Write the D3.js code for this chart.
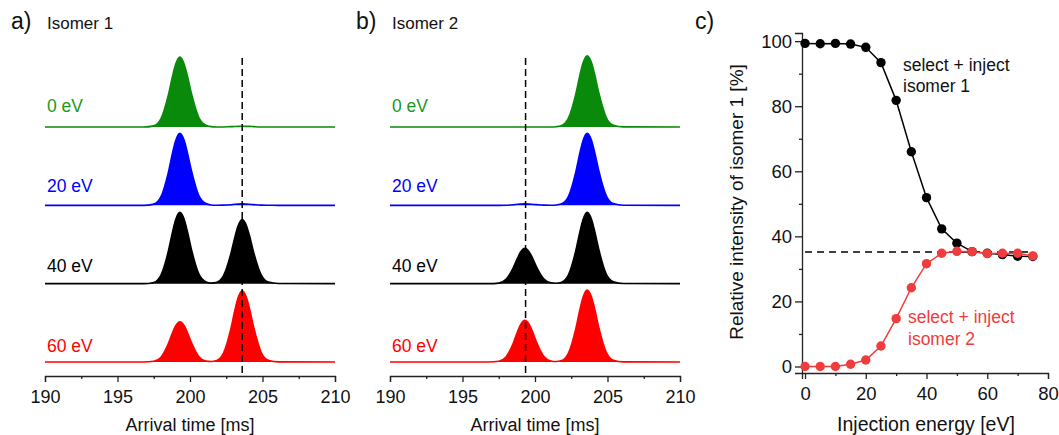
<!DOCTYPE html>
<html>
<head>
<meta charset="utf-8">
<script src="https://cdn.jsdelivr.net/npm/d3@7"></script>
<style>
  body { margin: 0; background: #fff; }
  svg text { font-family: "Liberation Sans", Arial, sans-serif; }
</style>
</head>
<body>
<div id="my_dataviz"></div>
<script>
// arrival time grid [ms] the traces were read at
var times = [190, 196.8, 197.5, 198.0, 198.5, 198.8, 199.0, 199.3, 199.6, 199.8, 200.1, 200.6, 201.1, 201.45,
             201.8, 202.3, 202.8, 203.1, 203.3, 203.6, 203.9, 204.1, 204.4, 204.9, 205.4, 206.1, 210];

var energies = ["0 eV", "20 eV", "40 eV", "60 eV"];
var traceColors = ["#0a8a0a", "#0000ff", "#000000", "#ff0000"];

// normalised intensity, isomer 1 (panel a)
var iso1 = [
  [0,0,0.016,0.116,0.437,0.708,0.863,0.97,0.873,0.728,0.466,0.136,0.024,0.005,0,0.001,0.005,0.007,0.009,0.01,0.009,0.008,0.005,0.001,0,0,0],
  [0,0,0.017,0.12,0.45,0.73,0.89,1.0,0.9,0.75,0.48,0.14,0.025,0.005,0.001,0.003,0.009,0.015,0.018,0.02,0.018,0.015,0.01,0.003,0.001,0,0],
  [0,0,0.017,0.119,0.446,0.723,0.881,0.99,0.891,0.743,0.475,0.139,0.025,0.008,0.015,0.107,0.401,0.65,0.792,0.89,0.801,0.668,0.427,0.125,0.022,0.002,0],
  [0,0,0.01,0.067,0.252,0.409,0.498,0.56,0.504,0.42,0.269,0.078,0.014,0.007,0.017,0.119,0.446,0.723,0.881,0.99,0.891,0.743,0.475,0.139,0.025,0.002,0]
];
// normalised intensity, isomer 2 (panel b)
var iso2 = [
  [0,0,0,0,0,0,0,0,0,0,0,0,0,0.004,0.017,0.119,0.446,0.723,0.881,0.99,0.891,0.743,0.475,0.139,0.025,0.002,0],
  [0,0,0,0.002,0.009,0.015,0.018,0.02,0.018,0.015,0.01,0.003,0.001,0.004,0.017,0.12,0.45,0.73,0.89,1.0,0.9,0.75,0.48,0.14,0.025,0.002,0],
  [0,0,0.008,0.059,0.221,0.358,0.436,0.49,0.441,0.368,0.235,0.069,0.012,0.006,0.017,0.119,0.446,0.723,0.881,0.99,0.891,0.743,0.475,0.139,0.025,0.002,0],
  [0,0,0.01,0.07,0.261,0.423,0.516,0.58,0.522,0.435,0.278,0.081,0.015,0.007,0.017,0.12,0.45,0.73,0.89,1.0,0.9,0.75,0.48,0.14,0.025,0.002,0]
];
var timeTicks = [190, 195, 200, 205, 210];
var peak1Time = 199.35, peak2Time = 203.6;

// panel c
var injEnergy = [0, 5, 10, 15, 20, 25, 30, 35, 40, 45, 50, 55, 60, 65, 70, 75];
var rel1 = [99.3, 99.2, 99.3, 99.1, 98.1, 93.4, 81.8, 66.0, 51.9, 42.3, 37.9, 35.3, 34.8, 34.4, 33.9, 33.8];
var rel2 = [0, 0, 0, 0.7, 2.0, 6.3, 14.7, 24.2, 31.6, 34.8, 35.4, 35.3, 34.7, 34.8, 34.8, 34.0];
var plateau = 35.2;

var svg = d3.select("#my_dataviz")
  .append("svg")
    .attr("width", 1059)
    .attr("height", 435);

// ---------- panels a and b ----------
function drawTraces(opts) {
  var g = svg.append("g");
  var x = d3.scaleLinear().domain([190, 210]).range([opts.x0, opts.x1]);
  var base = d3.scalePoint().domain(energies).range([127, 362]);
  var labelY = d3.scalePoint().domain(energies).range([112, 352]);
  var h = d3.scaleLinear().domain([0, 1]).range([0, 72]);

  opts.traces.forEach(function(tr, i) {
    var pts = times.map(function(t, j) { return {t: t, v: tr[j]}; });
    var b = base(energies[i]);
    g.append("path")
      .datum(pts)
      .attr("fill", traceColors[i])
      .attr("d", d3.area()
        .curve(d3.curveMonotoneX)
        .x(function(d) { return x(d.t); })
        .y0(b)
        .y1(function(d) { return b - h(d.v); }));
    g.append("path")
      .datum(pts)
      .attr("fill", "none")
      .attr("stroke", traceColors[i])
      .attr("stroke-width", 1.6)
      .attr("d", d3.line()
        .curve(d3.curveMonotoneX)
        .x(function(d) { return x(d.t); })
        .y(function(d) { return b - h(d.v); }));
    g.append("text")
      .attr("x", opts.x0 + 2)
      .attr("y", labelY(energies[i]))
      .attr("fill", traceColors[i] == "#0a8a0a" ? "#1a9a1a" : traceColors[i])
      .style("font-size", "17.5px")
      .text(energies[i]);
  });

  // dashed marker line
  g.append("line")
    .attr("x1", x(opts.dashT)).attr("x2", x(opts.dashT))
    .attr("y1", 58).attr("y2", 376)
    .attr("stroke", "black")
    .attr("stroke-width", 1.5)
    .attr("stroke-dasharray", "7,4");

  // axis
  var ax = g.append("g")
    .attr("transform", "translate(0,376)")
    .call(d3.axisBottom(x).tickValues(timeTicks).tickSize(6).tickPadding(8).tickFormat(d3.format("d")));
  ax.selectAll("text").style("font-size", "18px").attr("fill", "#111");
  g.append("g")
    .attr("transform", "translate(0,376)")
    .call(d3.axisBottom(x).tickValues([192.5, 197.5, 202.5, 207.5]).tickSize(3).tickFormat(""))
    .select(".domain").remove();
  g.selectAll(".domain, .tick line").attr("stroke", "#222").attr("stroke-width", 1.3);

  g.append("text")
    .attr("x", (opts.x0 + opts.x1) / 2)
    .attr("y", 431)
    .attr("text-anchor", "middle")
    .style("font-size", "18px")
    .attr("fill", "#111")
    .text("Arrival time [ms]");

  g.append("text")
    .attr("x", opts.x0 - 34)
    .attr("y", 29)
    .style("font-size", "23px")
    .attr("fill", "#111")
    .text(opts.letter);
  g.append("text")
    .attr("x", opts.x0 + 2)
    .attr("y", 29)
    .style("font-size", "17px")
    .attr("fill", "#111")
    .text(opts.title);
}

drawTraces({x0: 45, x1: 335, traces: iso1, dashT: peak2Time, letter: "a)", title: "Isomer 1"});
drawTraces({x0: 390, x1: 680, traces: iso2, dashT: peak1Time, letter: "b)", title: "Isomer 2"});

// ---------- panel c ----------
var gc = svg.append("g");
var xc = d3.scaleLinear().domain([-1, 80]).range([802, 1048]);
var yc = d3.scaleLinear().domain([-2, 102.5]).range([373, 33]);

var xa = gc.append("g")
  .attr("transform", "translate(0,373)")
  .call(d3.axisBottom(xc).tickValues([0, 20, 40, 60, 80]).tickSize(6).tickPadding(8));
xa.selectAll("text").style("font-size", "18.5px").attr("fill", "#111");
gc.append("g")
  .attr("transform", "translate(0,373)")
  .call(d3.axisBottom(xc).tickValues([10, 30, 50, 70]).tickSize(3).tickFormat(""))
  .select(".domain").remove();

var ya = gc.append("g")
  .attr("transform", "translate(802,0)")
  .call(d3.axisLeft(yc).tickValues([0, 20, 40, 60, 80, 100]).tickSize(7).tickPadding(3));
ya.selectAll("text").style("font-size", "18.5px").attr("fill", "#111");
gc.append("g")
  .attr("transform", "translate(802,0)")
  .call(d3.axisLeft(yc).tickValues([10, 30, 50, 70, 90]).tickSize(3).tickFormat(""))
  .select(".domain").remove();
gc.selectAll(".domain, .tick line").attr("stroke", "#222").attr("stroke-width", 1.3);

gc.append("line")
  .attr("x1", xc(0)).attr("x2", xc(75))
  .attr("y1", yc(plateau)).attr("y2", yc(plateau))
  .attr("stroke", "black")
  .attr("stroke-width", 1.5)
  .attr("stroke-dasharray", "7,5");

function series(vals, color) {
  var pts = injEnergy.map(function(e, i) { return {e: e, v: vals[i]}; });
  gc.append("path")
    .datum(pts)
    .attr("fill", "none")
    .attr("stroke", color)
    .attr("stroke-width", 1.5)
    .attr("d", d3.line()
      .x(function(d) { return xc(d.e); })
      .y(function(d) { return yc(d.v); }));
  gc.selectAll(null)
    .data(pts)
    .enter()
    .append("circle")
      .attr("cx", function(d) { return xc(d.e); })
      .attr("cy", function(d) { return yc(d.v); })
      .attr("r", 4.7)
      .attr("fill", color);
}
series(rel1, "#000000");
series(rel2, "#f03c3c");

gc.append("text")
  .attr("x", 903).attr("y", 71)
  .style("font-size", "17.5px").attr("fill", "#111")
  .text("select + inject");
gc.append("text")
  .attr("x", 903).attr("y", 92)
  .style("font-size", "17.5px").attr("fill", "#111")
  .text("isomer 1");
gc.append("text")
  .attr("x", 908).attr("y", 323)
  .style("font-size", "17.5px").attr("fill", "#f03c3c")
  .text("select + inject");
gc.append("text")
  .attr("x", 908).attr("y", 345)
  .style("font-size", "17.5px").attr("fill", "#f03c3c")
  .text("isomer 2");

gc.append("text")
  .attr("transform", "translate(743,202) rotate(-90)")
  .attr("text-anchor", "middle")
  .style("font-size", "19px").attr("fill", "#111")
  .text("Relative intensity of isomer 1 [%]");
gc.append("text")
  .attr("x", 926).attr("y", 431)
  .attr("text-anchor", "middle")
  .style("font-size", "19.5px").attr("fill", "#111")
  .text("Injection energy [eV]");
gc.append("text")
  .attr("x", 695).attr("y", 29)
  .style("font-size", "23px").attr("fill", "#111")
  .text("c)");
</script>
</body>
</html>
